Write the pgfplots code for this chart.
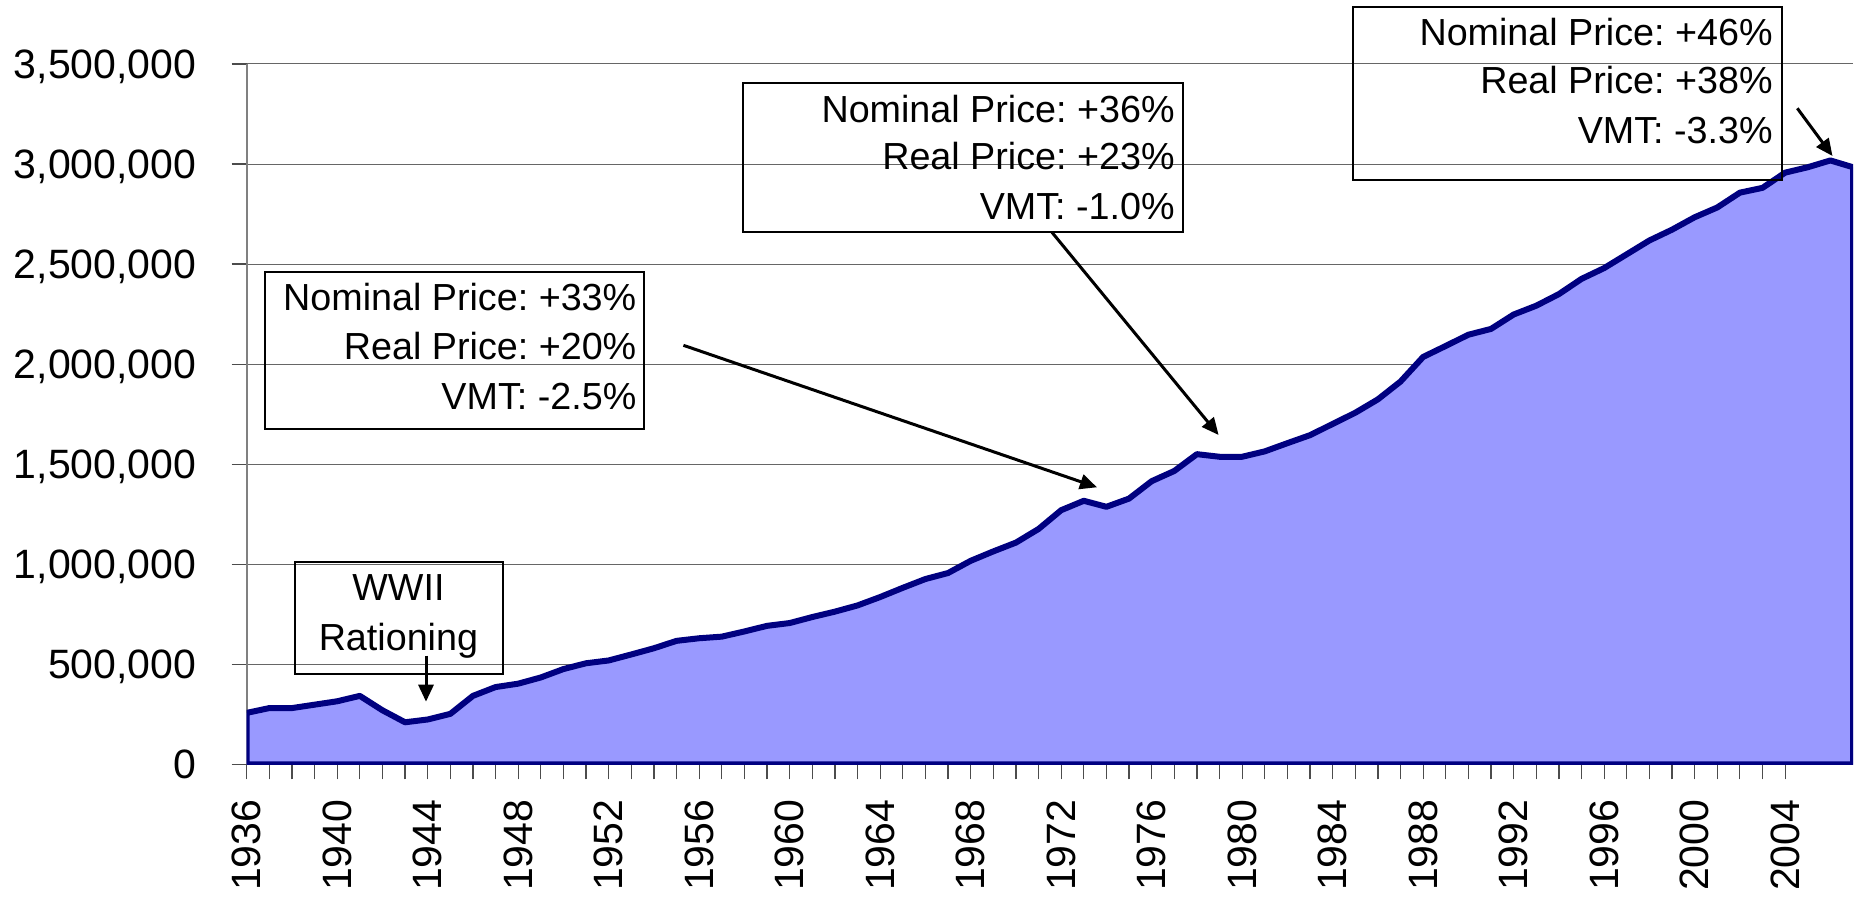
\documentclass[border=0pt]{standalone}
\usepackage{pgfplots}
\pgfplotsset{compat=1.18}
\usepackage{fontspec}
\setmainfont{Liberation Sans}
\usetikzlibrary{arrows.meta}
\definecolor{areafill}{RGB}{153,153,255}
\definecolor{arealine}{RGB}{0,0,128}
\newcommand{\tickfont}{\fontsize{20.5pt}{24pt}\selectfont}
\newcommand{\annfont}{\fontsize{18.85pt}{24.5pt}\selectfont}
\frenchspacing

\pgfplotstableread{
year vmt
1936 257000
1937 281000
1938 281000
1939 298000
1940 315000
1941 342000
1942 270000
1943 210000
1944 224000
1945 252000
1946 342000
1947 386000
1948 403000
1949 434000
1950 476000
1951 505000
1952 519000
1953 549000
1954 580000
1955 617000
1956 630000
1957 638000
1958 664000
1959 692000
1960 706000
1961 736000
1962 763000
1963 794000
1964 836000
1965 882000
1966 926000
1967 956000
1968 1017000
1969 1064000
1970 1108000
1971 1176000
1972 1270000
1973 1317000
1974 1287000
1975 1328000
1976 1415000
1977 1466000
1978 1550000
1979 1537000
1980 1537000
1981 1564000
1982 1605000
1983 1645000
1984 1701000
1985 1757000
1986 1824000
1987 1913000
1988 2036000
1989 2091000
1990 2147000
1991 2176000
1992 2248000
1993 2292000
1994 2350000
1995 2426000
1996 2480000
1997 2549000
1998 2618000
1999 2672000
2000 2734000
2001 2783000
2002 2857000
2003 2881000
2004 2957000
2005 2984000
2006 3018000
2007 2984000
}\vmtdata

\begin{document}
\frenchspacing
\begin{tikzpicture}
\useasboundingbox (0,0) rectangle (927pt,448pt);
\begin{axis}[
  at={(123.35pt,65.85pt)}, anchor=south west,
  scale only axis, width=803.15pt, height=350.15pt,
  xmin=1936, xmax=2007, ymin=0, ymax=3500000,
  axis lines*=left,
  axis line style={draw=gray, line width=1pt},
  xtick={1936,1940,...,2004},
  minor x tick num=3,
  ytick={0,500000,...,3500000},
  ymajorgrids,
  grid style={draw=black!60, line width=0.5pt},
  tick align=outside,
  major tick length=7.5pt, minor tick length=7.5pt,
  tick style={draw=black!70, line width=0.6pt},
  scaled y ticks=false,
  y tick label style={/pgf/number format/fixed, /pgf/number format/1000 sep={,},
    /pgf/number format/assume math mode=true,
    font=\tickfont, inner sep=0pt, anchor=base east, yshift=-7.3pt},
  x tick label style={/pgf/number format/1000 sep={},
    /pgf/number format/assume math mode=true,
    font=\tickfont, inner sep=0pt, rotate=90, anchor=east},
  yticklabel shift=17.5pt,
  xticklabel shift=10pt,
]
\addplot[fill=areafill, draw=arealine, line width=3pt, line join=round] table[x=year, y=vmt] {\vmtdata} \closedcycle;
\end{axis}

% annotation boxes
\draw[line width=1.1pt] (132.5pt,233.35pt) rectangle (322.15pt,311.85pt);
\node[anchor=base east, inner sep=0pt, font=\annfont] at (318.35pt,292.5pt) {Nominal Price: +33\%};
\node[anchor=base east, inner sep=0pt, font=\annfont] at (318.35pt,268pt) {Real Price: +20\%};
\node[anchor=base east, inner sep=0pt, font=\annfont] at (318.35pt,243.5pt) {VMT: -2.5\%};

\draw[line width=1.1pt] (371.35pt,331.85pt) rectangle (591.65pt,406.35pt);
\node[anchor=base east, inner sep=0pt, font=\annfont] at (587.5pt,386.65pt) {Nominal Price: +36\%};
\node[anchor=base east, inner sep=0pt, font=\annfont] at (587.5pt,363pt) {Real Price: +23\%};
\node[anchor=base east, inner sep=0pt, font=\annfont] at (587.5pt,338.35pt) {VMT: -1.0\%};

\draw[line width=1.1pt] (676.65pt,358pt) rectangle (890.85pt,444.35pt);
\node[anchor=base east, inner sep=0pt, font=\annfont] at (886.5pt,425.15pt) {Nominal Price: +46\%};
\node[anchor=base east, inner sep=0pt, font=\annfont] at (886.5pt,401pt) {Real Price: +38\%};
\node[anchor=base east, inner sep=0pt, font=\annfont] at (886.5pt,376.35pt) {VMT: -3.3\%};

\draw[line width=1.1pt] (147.5pt,111pt) rectangle (251.65pt,166.85pt);
\node[anchor=base, inner sep=0pt, font=\annfont] at (199.2pt,147.65pt) {WWII};
\node[anchor=base, inner sep=0pt, font=\annfont] at (199.2pt,122.65pt) {Rationing};

% arrows
\draw[line width=1.5pt, -{Triangle[length=8.5pt,width=7.5pt]}] (341.7pt,275.35pt) -- (548.5pt,204.35pt);
\draw[line width=1.5pt, -{Triangle[length=8.5pt,width=7.5pt]}] (525.85pt,332pt) -- (609.3pt,230.5pt);
\draw[line width=1.5pt, -{Triangle[length=8.5pt,width=7.5pt]}] (898.65pt,393.85pt) -- (916.25pt,370pt);
\draw[line width=1.5pt, -{Triangle[length=8.5pt,width=7.5pt]}] (213pt,120.15pt) -- (213pt,97.15pt);
\end{tikzpicture}
\end{document}
